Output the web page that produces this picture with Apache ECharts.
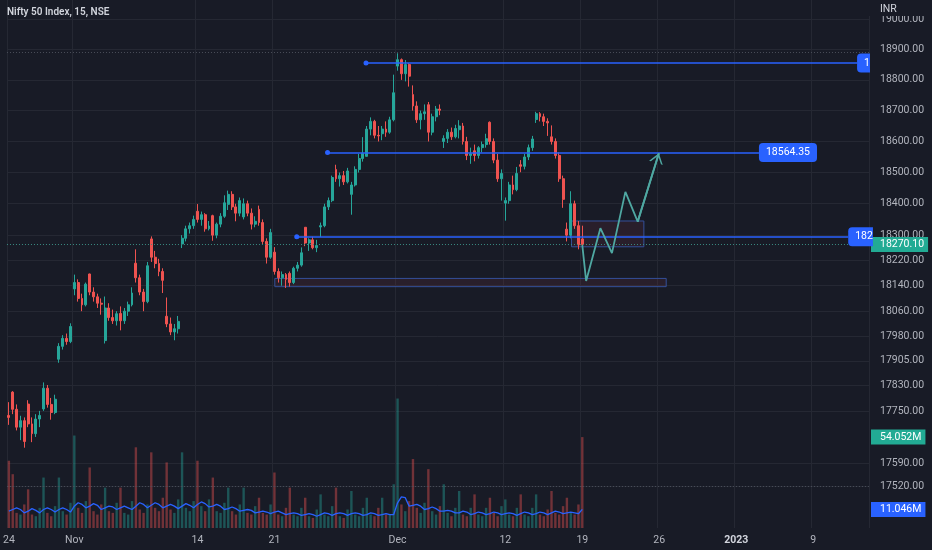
<!DOCTYPE html>
<html><head><meta charset="utf-8">
<script src="https://cdn.jsdelivr.net/npm/echarts@6/dist/echarts.min.js"></script>
<style>html,body{margin:0;padding:0;background:#181b26;}#c{width:932px;height:550px;}</style>
</head><body><div id="c"></div>
<script>
// ---------- data ----------
const sessions = ['Oct 24','Oct 25','Oct 27','Oct 28','Oct 31','Nov 1','Nov 2','Nov 3','Nov 4','Nov 7','Nov 9','Nov 10','Nov 11','Nov 14','Nov 15','Nov 16','Nov 17','Nov 18','Nov 21','Nov 22','Nov 23','Nov 24','Nov 25','Nov 28','Nov 29','Nov 30','Dec 1','Dec 2','Dec 5','Dec 6','Dec 7','Dec 8','Dec 9','Dec 12','Dec 13','Dec 14','Dec 15','Dec 16','Dec 19','Dec 20','Dec 21','Dec 22','Dec 23','Dec 26','Dec 27','Dec 28','Dec 29','Dec 30','Jan 2','Jan 3','Jan 4','Jan 5','Jan 6','Jan 9','Jan 10','Jan 11','Jan 12'];
const shortSession = 'Oct 24';
const barsPerSession = 4;
const visibleBars = 224;
const timeTicks = {'Oct 24':'24','Nov 1':'Nov','Nov 14':'14','Nov 21':'21','Dec 1':'Dec','Dec 12':'12','Dec 19':'19','Dec 26':'26','Jan 2':'2023','Jan 9':'9'};
const priceTicks = [19000,18900,18800,18700,18600,18500,18400,18300,18220,18140,18060,17980,17905,17830,17750,17590,17520];

// [open, high, low, close]
const ohlc = [
[17736,17777,17707,17730],
[17808,17811,17740,17755],[17755,17770,17690,17700],[17700,17735,17660,17720],[17720,17730,17637,17656],
[17771,17783,17700,17710],[17710,17730,17654,17680],[17680,17740,17670,17725],[17725,17750,17700,17736],
[17756,17838,17750,17820],[17820,17830,17760,17770],[17770,17790,17723,17745],[17745,17800,17740,17786],
[17910,17960,17899,17950],[17950,17985,17940,17975],[17975,17990,17955,17965],[17965,18022,17960,18012],
[18130,18175,18110,18150],[18150,18160,18090,18100],[18100,18115,18060,18080],[18080,18150,18075,18145],
[18177,18178,18110,18120],[18120,18135,18090,18105],[18105,18115,18070,18085],[18085,18100,18049,18082],
[17968,18106,17959,18070],[18070,18085,18030,18040],[18040,18065,18020,18030],[18030,18060,18015,18052],
[18053,18075,18000,18030],[18030,18070,18020,18060],[18060,18090,18045,18080],[18080,18135,18075,18117],
[18211,18255,18150,18165],[18165,18175,18110,18120],[18120,18130,18060,18090],[18090,18215,18085,18203],
[18288,18296,18215,18230],[18230,18250,18195,18210],[18210,18225,18170,18185],[18185,18195,18117,18157],
[18044,18103,18010,18020],[18020,18040,17985,17995],[17995,18020,17969,18005],[18005,18045,17990,18028],
[18272,18300,18259,18290],[18290,18330,18280,18320],[18320,18340,18305,18330],[18330,18362,18320,18350],
[18376,18399,18340,18350],[18350,18375,18330,18365],[18365,18370,18311,18320],[18320,18345,18315,18329],
[18362,18365,18282,18300],[18300,18340,18290,18335],[18335,18370,18325,18360],[18360,18427,18355,18403],
[18398,18442,18380,18430],[18430,18440,18380,18390],[18390,18400,18344,18370],[18370,18420,18360,18410],
[18358,18417,18350,18400],[18400,18410,18360,18370],[18370,18385,18318,18335],[18335,18360,18325,18344],
[18382,18394,18330,18340],[18340,18350,18270,18280],[18280,18290,18210,18230],[18230,18320,18225,18308],
[18246,18262,18175,18185],[18185,18195,18150,18165],[18165,18185,18140,18175],[18175,18180,18133,18160],
[18179,18185,18137,18150],[18150,18200,18145,18195],[18195,18215,18185,18205],[18205,18261,18200,18244],
[18325,18325,18265,18275],[18275,18290,18250,18285],[18285,18295,18255,18260],[18260,18285,18246,18267],
[18326,18340,18294,18330],[18330,18400,18325,18390],[18390,18420,18380,18410],[18410,18490,18405,18484],
[18510,18525,18470,18480],[18480,18500,18455,18490],[18490,18505,18460,18470],[18470,18515,18465,18505],
[18430,18470,18365,18460],[18460,18520,18455,18510],[18510,18560,18500,18545],[18545,18614,18535,18562],
[18552,18650,18552,18640],[18640,18678,18620,18665],[18665,18670,18610,18620],[18620,18650,18600,18618],
[18625,18650,18604,18640],[18640,18665,18615,18630],[18630,18680,18625,18670],[18670,18817,18665,18758],
[18845,18887,18830,18866],[18866,18870,18800,18820],[18820,18865,18795,18850],[18850,18855,18778,18812],
[18752,18782,18700,18715],[18715,18730,18660,18670],[18670,18700,18639,18690],[18690,18720,18670,18696],
[18719,18728,18600,18630],[18630,18690,18620,18680],[18680,18715,18665,18705],[18705,18720,18685,18701],
[18600,18620,18579,18610],[18610,18640,18595,18630],[18630,18645,18605,18615],[18615,18654,18610,18642],
[18638,18669,18610,18650],[18650,18660,18590,18600],[18600,18615,18540,18555],[18555,18580,18528,18560],
[18570,18590,18536,18555],[18555,18585,18545,18580],[18580,18600,18565,18590],[18590,18625,18580,18609],
[18662,18665,18590,18600],[18600,18610,18530,18540],[18540,18560,18470,18480],[18480,18510,18410,18497],
[18402,18420,18346,18410],[18410,18470,18400,18460],[18460,18490,18430,18445],[18445,18518,18440,18497],
[18525,18540,18501,18520],[18520,18560,18510,18550],[18550,18590,18540,18580],[18580,18618,18570,18608],
[18671,18696,18660,18690],[18690,18695,18665,18680],[18680,18690,18650,18665],[18665,18675,18618,18660],
[18615,18652,18590,18600],[18600,18610,18545,18555],[18555,18565,18470,18480],[18480,18490,18387,18414],
[18319,18340,18280,18300],[18300,18440,18290,18400],[18400,18410,18320,18330],[18330,18345,18255,18269],
[18288,18330,18260,18270.10]
];
// volume, millions
const volume = [40,
32,9,8,14, 23,8,7,12, 30,9,7,13, 30,10,8,15,
55,12,9,16, 36,10,8,14, 24,10,9,15, 24,9,8,16, 48,11,9,14, 45,12,10,18, 39,11,9,17, 45,12,10,16,
40,13,10,17, 30,10,9,15, 24,10,8,14, 24,9,8,13, 18,9,8,14, 33,8,7,12, 24,8,7,12, 18,7,6,11,
20,8,7,13, 24,7,6,11, 22,8,7,12, 18,8,7,12, 18,8,8,26,
77,14,10,16, 41,12,9,15, 35,10,8,13, 26,9,7,12, 22,8,7,12, 20,8,7,12, 18,9,7,13,
17,8,7,12, 20,8,7,12, 20,8,7,11, 22,9,8,13, 18,9,8,14,
54.052];
// volume moving average, millions
const volumeMA = [10,
11,12,11,9, 10,11.5,10.5,9, 11,12,11,9.5, 11,12,11,9.5,
13,15,14,12, 13,14.5,13.5,11, 12,13,12.5,11, 12,13,12,11, 13,15,14,12, 13.5,15,14,12, 13,14,13,11.5, 13,14.5,13.5,12,
14,15.5,14.5,12.5, 13,14,13,11, 11.5,12.5,11.5,10, 10.5,11,10.5,9, 9.5,10,9.5,8.5, 9.5,10,9,8, 8.5,9,8.5,7.5, 8,8.5,8,7,
8,9,8.5,7.5, 8.5,9,8.5,7.5, 8.5,9,8.5,7.5, 8,9,8.5,7.5, 8,8.5,8,8,
15,18.5,18,13, 13.5,14,13,11, 11.5,12.5,11.5,10, 10,10.5,10,9, 9,10,9.5,8, 8.5,9.5,9,8, 8.5,9.5,9,8,
8.5,9,8.5,7.5, 8.5,9.5,9,8, 8.5,9.5,9,8, 9,10,9.5,8.5, 9,9.5,9,8.5,
11.046];
const lastPrice = 18270.10;
const lastVolume = 54.052;
const lastVolumeMA = 11.046;
const guideLevels = [18890, 17520];
// drawings: [bar index, price]
const hLines = [
  {from:[92.8,18855], to:[220.4,18855], text:'1'},
  {from:[82.8,18564.35], to:[194.9,18564.35], text:'18564.35'},
  {from:[74.8,18295], to:[218.1,18295], text:'182'}
];
const zones = [
  {from:[69.1,18163], to:[170.8,18137]},
  {from:[146.2,18345], to:[165.0,18263]}
];
const projection = [[149,18268],[150.0,18155],[153.7,18322],[156.7,18243],[160.2,18438],[163.4,18343],[168.9,18562]];

// ---------- chart ----------
const BG = '#181b26', GRID = '#252833', TXT = '#b2b5be', FONT = 'Roboto';
const UP = '#26a69a', DOWN = '#ef5350', BLUE = '#2962ff', TEAL = '#4fa8a2';

const categories = [];
sessions.forEach(s => {
  const n = s === shortSession ? 1 : barsPerSession;
  for (let k = 0; k < n; k++) categories.push(s + '|' + k);
});
categories.length = visibleBars;
const isTick = (i, v) => v.endsWith('|0') && timeTicks[v.split('|')[0]] !== undefined;

const candleData = ohlc.map(([o, h, l, c]) => [o, c, l, h]);
const volData = volume.map((v, i) => ({
  value: v * 1e6,
  itemStyle: {color: ohlc[i][3] >= ohlc[i][0] ? 'rgba(38,166,154,0.42)' : 'rgba(239,83,80,0.42)'}
}));
const maData = volumeMA.map(v => v * 1e6);

const axisBox = (text, bg) => ({
  show: true, position: 'end', distance: 2, formatter: text,
  backgroundColor: bg, color: '#ffffff', fontFamily: FONT, fontSize: 10.5,
  padding: [2, 4, 2, 9], lineHeight: 11
});
const hiddenLine = {color: 'rgba(0,0,0,0)', width: 0.1, type: 'solid'};

const chevron = 'path://M5,-7 M-2,0 M12,0 M0,7 L5,0 L10,7 L8.7,7 L5,1.8 L1.3,7 Z';

const option = {
  backgroundColor: BG,
  animation: false,
  grid: {left: 0, right: 63, top: 0, bottom: 22},
  xAxis: [
    {
      type: 'category', data: categories, boundaryGap: true,
      axisLine: {show: false}, axisTick: {show: false},
      axisLabel: {
        interval: isTick, color: TXT, fontFamily: FONT, fontSize: 10.5, margin: 7,
        formatter: v => { const t = timeTicks[v.split('|')[0]]; return t === '2023' ? '{b|2023}' : t; },
        rich: {b: {fontWeight: 'bold', color: '#d1d4dc', fontFamily: FONT, fontSize: 10.5}}
      },
      splitLine: {show: true, interval: isTick, lineStyle: {color: GRID, width: 1}}
    },
    {type: 'value', min: -0.5, max: visibleBars - 0.5, show: false}
  ],
  yAxis: [
    {
      type: 'log', logBase: 10, position: 'right', min: 17392.8, max: 19062.5,
      axisLine: {show: false},
      axisTick: {show: false, customValues: priceTicks},
      axisLabel: {customValues: priceTicks, color: TXT, fontFamily: FONT, fontSize: 10.5, margin: 11,
        formatter: v => Number(v).toFixed(2)},
      splitLine: {show: true, lineStyle: {color: GRID, width: 1}}
    },
    {type: 'value', min: 0, max: 314e6, show: false}
  ],
  series: [
    {
      type: 'bar', xAxisIndex: 0, yAxisIndex: 1, data: volData, barWidth: '62%', z: 1
    },
    {
      type: 'line', xAxisIndex: 0, yAxisIndex: 1, data: maData, showSymbol: false, z: 2,
      lineStyle: {color: BLUE, width: 1.3}
    },
    {
      type: 'candlestick', xAxisIndex: 0, yAxisIndex: 0, data: candleData, barWidth: 2.4, z: 3,
      itemStyle: {color: UP, color0: DOWN, borderColor: UP, borderColor0: DOWN, borderWidth: 1},
      markLine: {
        silent: true, symbol: 'none',
        data: [
          {yAxis: lastPrice, lineStyle: {color: '#3a8c83', type: [1, 2], width: 1},
           label: axisBox(lastPrice.toFixed(2), '#22ab94')},
          ...guideLevels.map(v => ({yAxis: v, lineStyle: {color: '#4a4e5a', type: [1, 2], width: 1}, label: {show: false}}))
        ]
      }
    },
    {
      type: 'line', xAxisIndex: 0, yAxisIndex: 1, data: [], z: 8,
      markLine: {
        silent: true, symbol: 'none',
        data: [
          {yAxis: lastVolume * 1e6, lineStyle: hiddenLine, label: axisBox(lastVolume.toFixed(3) + 'M', '#22ab94')},
          {yAxis: lastVolumeMA * 1e6, lineStyle: hiddenLine, label: axisBox(lastVolumeMA.toFixed(3) + 'M', BLUE)}
        ]
      }
    },
    {
      type: 'line', xAxisIndex: 1, yAxisIndex: 0, data: projection, showSymbol: false, symbol: 'none', z: 5,
      lineStyle: {color: TEAL, width: 1.8},
      markArea: {
        silent: true,
        itemStyle: {color: 'rgba(150,60,80,0.14)', borderColor: '#34509a', borderWidth: 1},
        data: zones.map(z => [{coord: z.from}, {coord: z.to}])
      },
      markLine: {
        silent: true, symbol: ['circle', 'none'], symbolSize: 5,
        lineStyle: {color: BLUE, width: 1.5, type: 'solid'},
        data: hLines.map(l => [
          {coord: l.from, label: {
            show: true, position: 'end', distance: 0, formatter: l.text,
            backgroundColor: BLUE, color: '#ffffff', fontFamily: FONT, fontSize: 10.5, lineHeight: 11,
            padding: l.text.length > 4 ? [4, 7, 4, 7] : [4, 0, 4, 7],
            borderRadius: l.text.length > 4 ? 4 : [4, 0, 0, 4]
          }},
          {coord: l.to}
        ])
      }
    },
    {
      type: 'line', xAxisIndex: 1, yAxisIndex: 0, data: [], z: 6,
      markLine: {
        silent: true, symbol: ['none', chevron], symbolSize: 20,
        lineStyle: {color: TEAL, width: 1.8, type: 'solid'}, label: {show: false},
        data: [[{coord: projection[projection.length - 2]}, {coord: projection[projection.length - 1]}]]
      }
    }
  ],
  graphic: [
    {type: 'rect', right: 0, top: 0, z: 100, shape: {width: 63, height: 16}, style: {fill: BG}},
    {type: 'text', left: 880, top: 4, z: 101, style: {text: 'INR', fill: '#d1d4dc', font: '10.5px Roboto'}},
    {type: 'text', left: 7, top: 7, z: 101, style: {text: 'Nifty 50 Index, 15, NSE', fill: '#d1d4dc', font: '600 10px Roboto'}}
  ]
};
echarts.init(document.getElementById('c'), null, {renderer: 'canvas'}).setOption(option);
</script></body></html>
